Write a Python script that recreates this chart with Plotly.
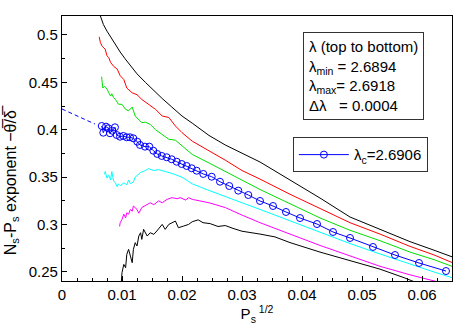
import plotly.graph_objects as go

# lambda = 2.6894 (top black)
x_l1 = [0.0064, 0.0069, 0.0075, 0.0080, 0.0086, 0.0092, 0.0097, 0.0105, 0.0114, 0.0125,
        0.0139, 0.0153, 0.0167, 0.0183, 0.0200, 0.0217, 0.0245, 0.0272, 0.0300, 0.0330,
        0.0380, 0.0430, 0.0480, 0.0530, 0.0580, 0.0620, 0.0650]
y_l1 = [0.520, 0.511, 0.504, 0.499, 0.492, 0.487, 0.482, 0.475, 0.468, 0.459,
        0.450, 0.441, 0.433, 0.424, 0.4145, 0.407, 0.394, 0.384, 0.375, 0.366,
        0.347, 0.328, 0.308, 0.295, 0.282, 0.273, 0.266]

# lambda = 2.6898 (red)
x_l2 = [0.0062, 0.0064, 0.0067, 0.0072, 0.0075, 0.0078, 0.0081, 0.0086, 0.0092, 0.0097,
        0.0103, 0.0108, 0.0117, 0.0125, 0.0133, 0.0144, 0.0156, 0.0167, 0.0178, 0.0189,
        0.0200, 0.0217, 0.0245, 0.0272, 0.0300, 0.0330, 0.0380, 0.0430, 0.0480, 0.0530,
        0.0580, 0.0620, 0.0650]
y_l2 = [0.498, 0.492, 0.488, 0.485, 0.478, 0.476, 0.471, 0.467, 0.464, 0.457,
        0.453, 0.444, 0.439, 0.437, 0.432, 0.427, 0.4215, 0.4145, 0.413, 0.404,
        0.397, 0.388, 0.378, 0.368, 0.357, 0.348, 0.332, 0.317, 0.302, 0.290,
        0.277, 0.268, 0.260]

# lambda = 2.6902 (green)
x_l3 = [0.0066, 0.0068, 0.0071, 0.0075, 0.0078, 0.0081, 0.0083, 0.0086, 0.0089, 0.0094,
        0.0100, 0.0106, 0.0111, 0.0117, 0.0122, 0.0133, 0.0139, 0.0147, 0.0156, 0.0167,
        0.0178, 0.0189, 0.0200, 0.0217, 0.0245, 0.0272, 0.0300, 0.0330, 0.0380, 0.0430,
        0.0480, 0.0530, 0.0580, 0.0620, 0.0650]
y_l3 = [0.456, 0.444, 0.446, 0.443, 0.439, 0.4355, 0.438, 0.434, 0.432, 0.427,
        0.4268, 0.4215, 0.420, 0.424, 0.4145, 0.4075, 0.408, 0.4057, 0.400, 0.395,
        0.390, 0.389, 0.383, 0.374, 0.365, 0.356, 0.347, 0.337, 0.322, 0.307,
        0.294, 0.283, 0.271, 0.263, 0.256]

# lambda_c = 2.6906 (blue circles)
x_lc = [0.00662, 0.00688, 0.00733, 0.00772, 0.0080, 0.00838, 0.00883, 0.00912, 0.00967, 0.01022,
        0.01078, 0.01133, 0.01188, 0.01255, 0.0130, 0.01383, 0.01455, 0.01522, 0.01588, 0.01662,
        0.01745, 0.01828, 0.01912, 0.01995, 0.02078, 0.02162, 0.02245, 0.02355, 0.02495, 0.02633,
        0.02788, 0.02938, 0.03105, 0.0330, 0.03517, 0.03733, 0.03967, 0.0425, 0.04517, 0.0480,
        0.05183, 0.0555, 0.0595, 0.0640]
y_lc = [0.4040, 0.3969, 0.4033, 0.4016, 0.3963, 0.3990, 0.4026, 0.3945, 0.3927, 0.3935,
        0.3921, 0.3921, 0.3910, 0.3874, 0.3840, 0.3822, 0.3822, 0.3779, 0.3745, 0.3724,
        0.3710, 0.3689, 0.3663, 0.3639, 0.3618, 0.3594, 0.3568, 0.3534, 0.3505, 0.3452,
        0.3407, 0.3358, 0.3312, 0.3249, 0.3196, 0.3133, 0.3069, 0.3006, 0.2922, 0.2859,
        0.2764, 0.2679, 0.2595, 0.2510]

# extrapolation of lambda_c to Ps -> 0
x_fit = [0.0, 0.0055]
y_fit = [0.4219, 0.4060]

# lambda = 2.6910 (cyan)
x_l5 = [0.0071, 0.0072, 0.0075, 0.0078, 0.0081, 0.0083, 0.0086, 0.0089, 0.0092, 0.0094,
        0.0097, 0.0103, 0.0108, 0.0111, 0.0114, 0.0119, 0.0122, 0.0131, 0.0139, 0.0144,
        0.0153, 0.0161, 0.0172, 0.0183, 0.0200, 0.0217, 0.0245, 0.0272, 0.0300, 0.0330,
        0.0380, 0.0430, 0.0480, 0.0530, 0.0580, 0.0620, 0.0650]
y_l5 = [0.353, 0.356, 0.349, 0.352, 0.347, 0.356, 0.346, 0.344, 0.340, 0.343,
        0.341, 0.344, 0.342, 0.347, 0.343, 0.345, 0.350, 0.355, 0.357, 0.359,
        0.357, 0.358, 0.356, 0.354, 0.350, 0.343, 0.336, 0.330, 0.323, 0.316,
        0.304, 0.292, 0.280, 0.269, 0.258, 0.250, 0.244]

# lambda = 2.6914 (magenta)
x_l6 = [0.0096, 0.0097, 0.0100, 0.0103, 0.0106, 0.0108, 0.0111, 0.0114, 0.0117, 0.0119,
        0.0125, 0.0128, 0.0133, 0.0139, 0.0147, 0.0153, 0.0161, 0.0167, 0.0175, 0.0183,
        0.0192, 0.0197, 0.0206, 0.0211, 0.0217, 0.0245, 0.0272, 0.0300, 0.0330, 0.0380,
        0.0430, 0.0480, 0.0530, 0.0580, 0.0630]
y_l6 = [0.298, 0.302, 0.3055, 0.311, 0.307, 0.3125, 0.311, 0.316, 0.314, 0.3196,
        0.316, 0.312, 0.318, 0.320, 0.323, 0.321, 0.325, 0.323, 0.3266, 0.3284,
        0.3273, 0.3284, 0.3259, 0.3284, 0.3266, 0.323, 0.318, 0.310, 0.302, 0.290,
        0.278, 0.267, 0.256, 0.247, 0.239]

# lambda = 2.6918 (bottom black)
x_l7 = [0.0099, 0.0100, 0.0103, 0.0106, 0.0108, 0.0111, 0.0114, 0.0117, 0.0119, 0.0122,
        0.0125, 0.0128, 0.0131, 0.0133, 0.0136, 0.0142, 0.0147, 0.0153, 0.0158, 0.0167,
        0.0172, 0.0178, 0.0189, 0.0194, 0.0203, 0.0211, 0.0217, 0.0227, 0.0235, 0.0247,
        0.0260, 0.0272, 0.0285, 0.0300, 0.0330, 0.0355, 0.0380, 0.0405, 0.0430, 0.0480,
        0.0530, 0.0570, 0.0590]
y_l7 = [0.2405, 0.2493, 0.258, 0.2545, 0.2686, 0.2739, 0.2668, 0.2598, 0.2739, 0.2809,
        0.2774, 0.2879, 0.2914, 0.2844, 0.295, 0.2879, 0.2914, 0.2897, 0.2932, 0.3002,
        0.295, 0.3002, 0.3037, 0.2967, 0.2985, 0.3002, 0.303, 0.305, 0.302, 0.301,
        0.298, 0.299, 0.296, 0.293, 0.290, 0.287, 0.281, 0.276, 0.271, 0.262,
        0.253, 0.244, 0.239]

FONT = "Liberation Sans, Arial, Helvetica, sans-serif"

fig = go.Figure()

curves = [
    (x_l1, y_l1, "black"),
    (x_l2, y_l2, "#ff0000"),
    (x_l3, y_l3, "#00e000"),
    (x_l5, y_l5, "#00ffff"),
    (x_l6, y_l6, "#ff00ff"),
    (x_l7, y_l7, "black"),
]
for xs, ys, col in curves:
    fig.add_trace(
        go.Scatter(x=xs, y=ys, mode="lines", line=dict(color=col, width=1),
                   showlegend=False, hoverinfo="skip")
    )

fig.add_trace(
    go.Scatter(x=x_fit, y=y_fit, mode="lines",
               line=dict(color="#0000ff", width=1, dash="4px,3px"),
               showlegend=False)
)
fig.add_trace(
    go.Scatter(
        x=x_lc, y=y_lc, mode="lines+markers",
        name="λ<sub>c</sub>=2.6906",
        line=dict(color="#0000ff", width=1),
        marker=dict(symbol="circle-open", size=7, color="#0000ff", line=dict(width=1)),
    )
)

axis_common = dict(
    showline=True, linecolor="black", linewidth=1.3, mirror=True,
    ticks="inside", ticklen=5, tickwidth=1, tickcolor="black",
    showgrid=False, zeroline=False, automargin=False,
    tickfont=dict(family=FONT, size=15, color="black"),
)

fig.update_xaxes(
    range=[0, 0.065], tickvals=[0, 0.01, 0.02, 0.03, 0.04, 0.05, 0.06],
    ticktext=["0", "0.01", "0.02", "0.03", "0.04", "0.05", "0.06"],
    minor=dict(ticks="inside", ticklen=3, tickcolor="black", dtick=0.0025, tick0=0),
    title=dict(text="P<sub>s</sub><sup> 1/2</sup>", font=dict(family=FONT, size=15, color="black"),
               standoff=2),
    **axis_common,
)
fig.update_yaxes(
    range=[0.2405, 0.52], tickvals=[0.25, 0.3, 0.35, 0.4, 0.45, 0.5],
    ticktext=["0.25", "0.3", "0.35", "0.4", "0.45", "0.5"],
    minor=dict(ticks="inside", ticklen=3, tickcolor="black", dtick=0.025, tick0=0),
    **axis_common,
)

# y title placed by hand: it sits lower than the axis centre in the original
fig.add_annotation(
    xref="paper", yref="paper", x=-0.131, y=0.38, xanchor="center", yanchor="middle",
    text="N<sub>s</sub>-P<sub>s</sub> exponent −θ\u0305/δ\u0305", textangle=-90,
    showarrow=False, font=dict(family=FONT, size=16, color="black"),
)

fig.add_annotation(
    xref="paper", yref="paper", x=0.617, y=0.941, xanchor="left", yanchor="top",
    text=("λ (top to bottom)<br>λ<sub>min</sub> = 2.6894<br>λ<sub>max</sub>= 2.6918"
          "<br>Δλ\u00a0\u00a0 = 0.0004"),
    align="left", showarrow=False,
    font=dict(family=FONT, size=15, color="black"),
    bgcolor="white", bordercolor="#333333", borderwidth=1, borderpad=5,
)

fig.update_layout(
    width=463, height=328,
    margin=dict(l=62, r=11, t=16, b=47),
    plot_bgcolor="white", paper_bgcolor="white",
    font=dict(family=FONT, size=15, color="black"),
    legend=dict(
        x=0.592, y=0.542, xanchor="left", yanchor="top",
        bgcolor="white", bordercolor="#333333", borderwidth=1,
        font=dict(family=FONT, size=15, color="black"),
        itemwidth=50, tracegroupgap=0,
    ),
)

# drop the default 8px page margin so the figure sits at the window's corner
fig.write_html("out.html", config={"displayModeBar": False},
               post_script="document.body.style.margin='0px';")
